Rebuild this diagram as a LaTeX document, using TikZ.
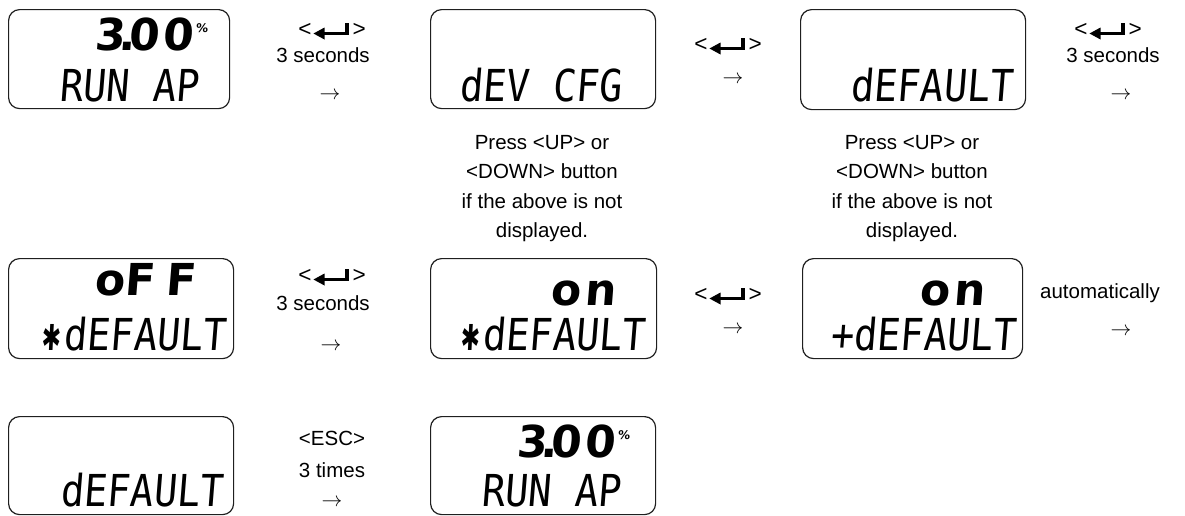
\documentclass[tikz,border=0pt]{standalone}
\usepackage{fontspec}
\setmainfont{Liberation Sans}
\newfontfamily\lcdfont{DejaVu Sans Mono}[FakeStretch=0.876,FakeSlant=0.08]
\newfontfamily\lcdbigfont{DejaVu Sans}[FakeSlant=0.08]
\newfontfamily\symfont{DejaVu Sans}[FakeSlant=0.08]
\newcommand{\retsym}{\tikz[x=1pt,y=1pt,baseline=0pt]{\fill (0,2.5) -- (11,8.5) -- (11,-3.5) -- cycle; \fill (10,1) rectangle (35,4.2); \fill (31.5,1) rectangle (35,13.5);}}
\newcommand{\retkey}{\scalebox{1.1}{<}\hspace{2pt}\retsym\hspace{4pt}\scalebox{1.1}{>}}
\newcommand{\lcdstar}{\makebox[23.2pt][l]{\kern1pt\scalebox{0.68}[1.05]{\symfont\fontsize{34}{34}\selectfont ✱}}}
\newcommand{\pct}{\kern3pt\raisebox{18pt}{\fontsize{12}{12}\selectfont\%}}
\newcommand{\threeoo}{3\kern-6pt.\kern-7pt0\kern3pt0\pct}
\newcommand{\rarr}{$\rightarrow$}
\tikzset{
  lcdbox/.style={draw=black!88, line width=1.2pt, rounded corners=11pt, inner sep=0pt, anchor=north west},
  lcdlow/.style={inner sep=0pt, anchor=base west, font=\lcdfont\fontsize{44}{44}\selectfont},
  lcdtop/.style={inner sep=0pt, anchor=base west, font=\lcdbigfont\bfseries\fontsize{44}{44}\selectfont},
  lbl/.style={inner sep=0pt, anchor=base, font=\fontsize{20.5}{29.5}\selectfont},
  arr/.style={inner sep=0pt, anchor=center, font=\fontsize{20}{24}\selectfont},
  note/.style={inner sep=0pt, anchor=north, align=center, font=\fontsize{20.5}{29.5}\selectfont},
}
\begin{document}
\begin{tikzpicture}[x=1pt,y=-1pt]
\useasboundingbox (0,0) rectangle (1185,515);
% LCD boxes
\node[lcdbox, minimum width=221pt, minimum height=99pt] (b1) at (8,9) {};
\node[lcdbox, minimum width=225pt, minimum height=99pt] (b2) at (430,9) {};
\node[lcdbox, minimum width=225pt, minimum height=100pt] (b3) at (800,9) {};
\node[lcdbox, minimum width=225pt, minimum height=100pt] (b4) at (8,258) {};
\node[lcdbox, minimum width=226pt, minimum height=100pt] (b5) at (430,258) {};
\node[lcdbox, minimum width=220pt, minimum height=100pt] (b6) at (802,258) {};
\node[lcdbox, minimum width=225pt, minimum height=98pt] (b7) at (8,416) {};
\node[lcdbox, minimum width=225pt, minimum height=98pt] (b8) at (430,416) {};
% top lines
\node[lcdtop] (t1) at (94,50) {\threeoo};
\node[lcdtop] (t4) at (94.5,295) {o\kern0pt F\kern11pt F};
\node[lcdtop] (t5) at (550.5,305) {o\kern3.3pt n};
\node[lcdtop] (t6) at (919.5,305) {o\kern3.3pt n};
\node[lcdtop] (t8) at (516,457) {\threeoo};
% bottom lines
\node[lcdlow] (s1) at (59,101) {RUN AP};
\node[lcdlow] (s2) at (459,101) {dEV CFG};
\node[lcdlow] (s3) at (850,101) {dEFAULT};
\node[lcdlow] (s4) at (40,350) {\lcdstar dEFAULT};
\node[lcdlow] (s5) at (459,350) {\lcdstar dEFAULT};
\node[lcdlow] (s6) at (830,350) {+dEFAULT};
\node[lcdlow] (s7) at (60,506) {dEFAULT};
\node[lcdlow] (s8) at (481,506) {RUN AP};
% step labels, row 1
\node[lbl] (k1) at (332,36) {\retkey};
\node[lbl] (w1) at (323,62) {3 seconds};
\node[arr] (a1) at (330,96) {\rarr};
\node[lbl] (k2) at (728,51) {\retkey};
\node[arr] (a2) at (733,80) {\rarr};
\node[lbl] (k3) at (1108,36) {\retkey};
\node[lbl] (w3) at (1113,62) {3 seconds};
\node[arr] (a3) at (1121,96) {\rarr};
% notes
\node[note] (n2) at (542,135) {Press <UP> or\\<DOWN> button\\if the above is not\\displayed.};
\node[note] (n3) at (912,135) {Press <UP> or\\<DOWN> button\\if the above is not\\displayed.};
% row 2
\node[lbl] (k4) at (332,282) {\retkey};
\node[lbl] (w4) at (323,310) {3 seconds};
\node[arr] (a4) at (331,347) {\rarr};
\node[lbl] (k5) at (728,301) {\retkey};
\node[arr] (a5) at (733,330) {\rarr};
\node[lbl] (w6) at (1100,298) {automatically};
\node[arr] (a6) at (1121,332) {\rarr};
% row 3
\node[lbl] (k7) at (332,445) {<ESC>};
\node[lbl] (w7) at (332,477) {3 times};
\node[arr] (a7) at (332,503) {\rarr};
\end{tikzpicture}
\end{document}
